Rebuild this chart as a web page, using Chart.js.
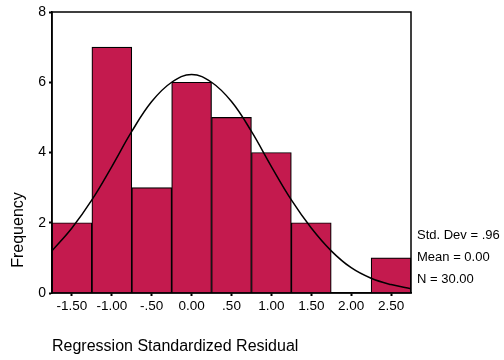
<!DOCTYPE html>
<html><head><meta charset="utf-8">
<script src="https://cdn.jsdelivr.net/npm/chart.js@4/dist/chart.umd.min.js"></script>
<style>html,body{margin:0;padding:0;background:#fff}#wrap{width:504px;height:360px}</style>
</head><body><div id="wrap"><canvas id="c"></canvas></div>
<script>
const binCenters = [-1.5, -1.0, -0.5, 0.0, 0.5, 1.0, 1.5, 2.0, 2.5];
const frequencies = [2, 7, 3, 6, 5, 4, 2, 0, 1];
const xTickValues = [-1.5, -1.0, -0.5, 0.0, 0.5, 1.0, 1.5, 2.0, 2.5];
const xTickLabels = ["-1.50", "-1.00", "-.50", "0.00", ".50", "1.00", "1.50", "2.00", "2.50"];
const curveX = [-1.75, -1.5, -1.25, -1.0, -0.75, -0.5, -0.25, 0.0, 0.25, 0.5, 0.75, 1.0, 1.25, 1.5, 1.75, 2.0, 2.25, 2.5, 2.75];
const curveY = [1.2, 1.85, 2.65, 3.6, 4.6, 5.45, 6.0, 6.22, 6.0, 5.45, 4.6, 3.6, 2.65, 1.85, 1.2, 0.72, 0.42, 0.24, 0.12];
const statLines = ["Std. Dev = .96", "Mean = 0.00", "N = 30.00"];
const xTitle = "Regression Standardized Residual";
const yTitle = "Frequency";

const FONT = "Arial, 'Liberation Sans', sans-serif";

const decor = {
  id: 'decor',
  afterDatasetsDraw(chart) {
    const {ctx, chartArea: a} = chart;
    ctx.save();
    ctx.strokeStyle = '#000';
    ctx.lineWidth = 1.5;
    ctx.strokeRect(a.left, a.top, a.right - a.left, a.bottom - a.top);
    ctx.fillStyle = '#000';
    ctx.font = "13px " + FONT;
    ctx.textAlign = 'left';
    ctx.textBaseline = 'middle';
    const ys = [235, 257, 279];
    statLines.forEach((t, i) => ctx.fillText(t, a.right + 6, ys[i]));
    ctx.font = "16px " + FONT;
    ctx.fillText(xTitle, 52, 347);
    ctx.translate(19, 230);
    ctx.rotate(-Math.PI / 2);
    ctx.textAlign = 'center';
    ctx.fillText(yTitle, 0, 0);
    ctx.restore();
  }
};

new Chart(document.getElementById('c'), {
  data: {
    datasets: [
      {
        type: 'line',
        data: curveX.map((x, i) => ({x, y: curveY[i]})),
        borderColor: '#000',
        borderWidth: 1.5,
        pointRadius: 0,
        tension: 0.4,
        fill: false,
        order: 0
      },
      {
        type: 'bar',
        data: binCenters.map((x, i) => ({x, y: frequencies[i]})),
        backgroundColor: '#c41a4e',
        borderColor: '#000',
        borderWidth: 1.2,
        barPercentage: 1,
        categoryPercentage: 1,
        order: 1
      }
    ]
  },
  options: {
    responsive: true,
    maintainAspectRatio: false,
    animation: false,
    layout: {padding: {left: 0, top: 12, right: 93, bottom: 0}},
    plugins: {legend: {display: false}, tooltip: {enabled: false}},
    scales: {
      x: {
        type: 'linear',
        offset: false,
        min: -1.75, max: 2.75,
        afterBuildTicks(scale) { scale.ticks = xTickValues.map(v => ({value: v})); },
        afterFit(scale) { scale.height = 67; },
        ticks: {
          autoSkip: false, maxRotation: 0, color: '#000',
          font: {size: 13.5, family: FONT},
          padding: 2,
          callback(v) { const i = xTickValues.indexOf(v); return i >= 0 ? xTickLabels[i] : ''; }
        },
        grid: {offset: false, drawOnChartArea: false, drawTicks: true, tickLength: 3, tickWidth: 2, color: '#000'},
        border: {display: true, color: '#000', width: 1.5}
      },
      y: {
        min: 0, max: 8,
        afterFit(scale) { scale.width = 52; },
        ticks: {stepSize: 2, color: '#000', font: {size: 14, family: FONT}, padding: 3},
        grid: {drawOnChartArea: false, drawTicks: true, tickLength: 3, tickWidth: 2, color: '#000'},
        border: {display: true, color: '#000', width: 1.5}
      }
    }
  },
  plugins: [decor]
});
</script></body></html>
